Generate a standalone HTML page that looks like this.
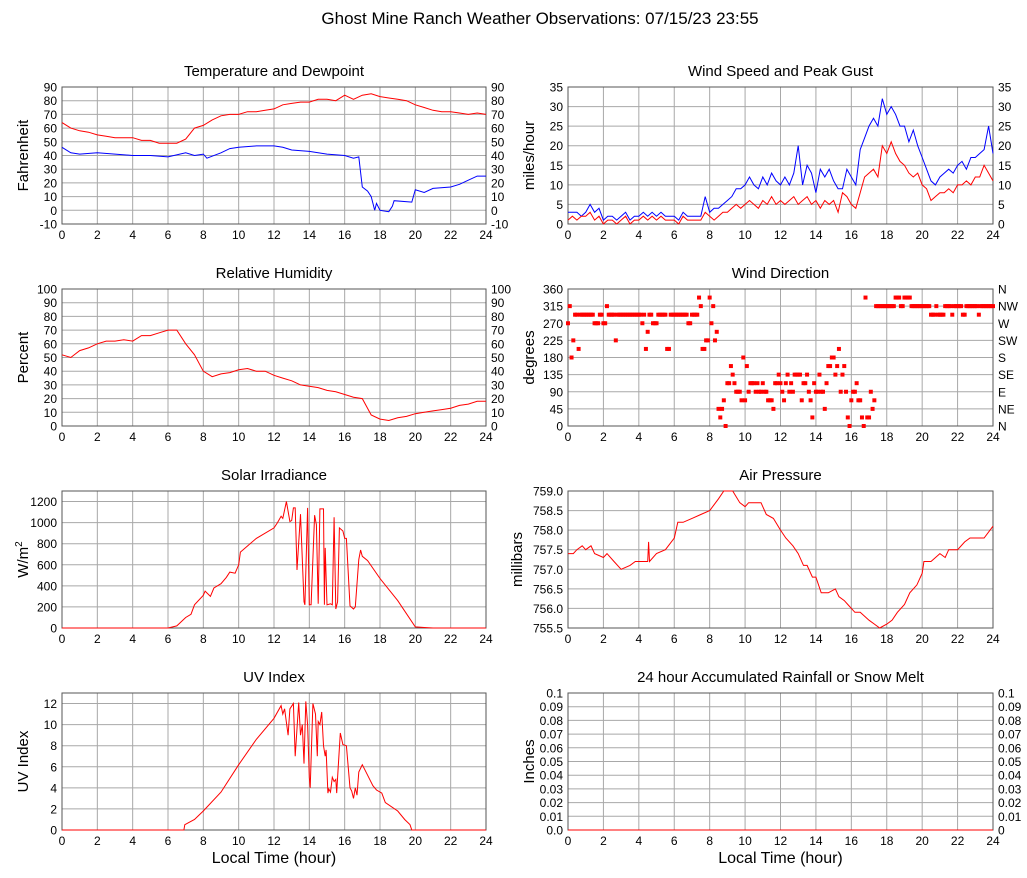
<!DOCTYPE html>
<html><head><meta charset="utf-8"><style>
html,body{margin:0;padding:0;background:#fff;}
svg{display:block;font-family:"Liberation Sans",Arial,sans-serif;}
</style></head><body>
<svg id="chart" width="1027" height="878" viewBox="0 0 1027 878" xmlns="http://www.w3.org/2000/svg">
<rect width="1027" height="878" fill="#fff"/>
<text x="540" y="24" text-anchor="middle" font-size="17" fill="#000">Ghost Mine Ranch Weather Observations: 07/15/23 23:55</text>
</svg>
<script>
// ---- data ----
const hourTicks=[0,2,4,6,8,10,12,14,16,18,20,22,24];
const tempVals=[64,60,58,57,55,54,53,53,53,51,51,49,49,49,52,60,62,66,69,70,70,72,72,73,74,77,78,79,79,81,81,80,84,81,84,85,83,82,81,80,77,75,73,72,72,71,70,71,70];
const dewT=[0,0.5,1,2,3,4,5,6,7,7.5,8,8.2,9,9.5,10,11,12,12.5,13,14,15,16,16.5,16.8,17,17.3,17.5,17.7,17.8,18,18.5,18.7,18.8,19.8,20,20.5,21,22,22.5,23,23.5,24];
const dewV=[46,42,41,42,41,40,40,39,42,40,41,38,42,45,46,47,47,46,44,43,41,40,38,39,17,14,10,0,5,0,-1,3,7,6,15,13,16,17,19,22,25,25];
const gustVals=[3,3,3,2,3,5,3,4, 1,2,2,1,2,3,1,2, 2,3,2,3,2,3,2,2, 2,1,3,2,2,2,2,7, 3,4,4,5,6,7,9,9, 10,12,10,9,12,10,13,11, 10,12,10,13,20,10,15,13, 8,14,12,14,11,9,9,14, 12,10,19,22,25,27,25,32, 28,30,28,25,25,21,24,20, 17,14,11,10,12,13,14,13, 15,16,14,17,17,18,19,25, 18];
const speedVals=[1,2,1,2,2,3,1,2, 0,1,1,0,1,2,0,1, 1,2,1,2,1,2,1,1, 1,0,2,1,1,1,1,3, 2,1,2,3,3,4,5,4, 5,6,5,4,6,5,7,5, 6,5,6,7,5,6,7,5, 6,4,6,5,6,3,8,7, 5,4,8,12,13,14,12,20, 18,21,18,16,15,13,12,13, 10,9,6,7,8,8,9,8, 10,10,11,10,12,12,15,13, 11];
const rhVals=[52,50,55,57,60,62,62,63,62,66,66,68,70,70,60,52,40,36,38,39,41,42,40,40,37,35,33,30,29,28,26,25,23,21,20,8,5,4,6,7,9,10,11,12,13,15,16,18,18];
const dirVals=[270,315,180,225,292.5,292.5,202.5,292.5,292.5,292.5,
292.5,292.5,292.5,292.5,292.5,270,270,270,292.5,292.5,
270,270,315,292.5,292.5,292.5,292.5,225,292.5,292.5,
292.5,292.5,292.5,292.5,292.5,292.5,292.5,292.5,292.5,292.5,
292.5,292.5,270,292.5,202.5,247.5,292.5,292.5,270,270,
270,292.5,292.5,292.5,292.5,292.5,202.5,202.5,292.5,292.5,
292.5,292.5,292.5,292.5,292.5,292.5,292.5,292.5,270,270,
292.5,292.5,292.5,292.5,337.5,315,202.5,202.5,225,225,
337.5,270,315,225,247.5,45,22.5,45,67.5,0,
112.5,112.5,157.5,135,112.5,90,90,90,67.5,180,
67.5,157.5,90,112.5,112.5,112.5,90,112.5,90,90,
112.5,90,90,67.5,67.5,67.5,45,112.5,112.5,135,
112.5,90,67.5,112.5,135,90,112.5,90,135,135,
135,135,67.5,112.5,112.5,135,90,67.5,22.5,112.5,
90,90,135,90,90,45,112.5,157.5,157.5,180,
180,135,157.5,202.5,90,135,157.5,90,22.5,0,
67.5,90,90,112.5,67.5,67.5,22.5,0,337.5,22.5,
22.5,90,45,67.5,315,315,315,315,315,315,
315,315,315,315,315,337.5,337.5,337.5,315,315,
337.5,337.5,337.5,337.5,315,315,315,315,315,315,
315,315,315,315,315,292.5,292.5,292.5,315,292.5,
292.5,292.5,292.5,315,315,315,315,292.5,315,315,
315,315,315,292.5,292.5,315,315,315,315,315,
315,315,292.5,315,315,315,315,315,315,315,
315];
const solarT=[0,6,6.5,7,7.3,7.5,8,8.1,8.4,8.6,9,9.3,9.5,9.8,10,10.1,11,12,12.2,12.4,12.5,12.7,12.9,13,13.1,13.2,13.3,13.5,13.7,13.75,13.9,14.0,14.1,14.3,14.4,14.5,14.6,14.8,14.85,14.9,15,15.2,15.3,15.4,15.5,15.6,15.7,15.9,16,16.1,16.3,16.5,16.6,16.8,16.9,17,17.3,18,19,20,20.5,21,24];
const solarV=[0,0,20,100,130,220,310,350,300,380,420,480,530,520,600,720,850,950,1000,1060,1040,1200,1010,1020,1140,1140,550,1080,250,220,1140,220,220,1070,980,230,1130,1130,220,760,220,230,220,1050,180,250,950,920,850,850,210,180,200,650,740,680,640,470,260,10,5,0,0];
const presT=[0,0.3,0.5,0.8,1,1.3,1.5,2,2.2,2.6,3,3.5,3.8,4,4.5,4.55,4.6,5,5.5,6,6.2,6.5,7,7.5,8,8.5,8.8,9.3,9.7,10,10.2,10.9,11.2,11.6,12,12.3,12.7,13,13.3,13.5,13.8,14,14.3,14.7,15.1,15.3,15.6,15.8,16.2,16.5,17,17.3,17.6,18,18.3,18.6,19,19.3,19.7,20,20.1,20.5,21,21.3,21.5,22,22.4,22.7,23,23.5,24];
const presV=[757.4,757.4,757.5,757.6,757.5,757.6,757.4,757.3,757.4,757.2,757.0,757.1,757.2,757.2,757.2,757.7,757.2,757.4,757.5,757.8,758.2,758.2,758.3,758.4,758.5,758.8,759.0,759.0,758.7,758.6,758.7,758.7,758.4,758.3,758.0,757.8,757.6,757.4,757.1,757.1,756.8,756.8,756.4,756.4,756.5,756.3,756.2,756.1,755.9,755.9,755.7,755.6,755.5,755.6,755.7,755.9,756.1,756.4,756.6,756.9,757.2,757.2,757.4,757.3,757.5,757.5,757.7,757.8,757.8,757.8,758.1];
const uvT=[0,6.9,6.95,7.5,8,9,10,11,12,12.4,12.5,12.6,12.8,12.9,13.1,13.2,13.4,13.5,13.6,13.7,13.8,13.9,14,14.05,14.2,14.35,14.45,14.5,14.6,14.7,14.8,14.9,14.95,15.05,15.1,15.2,15.3,15.4,15.5,15.55,15.6,15.75,15.9,16.1,16.3,16.4,16.5,16.6,16.7,16.8,17,17.3,17.6,17.8,18.1,18.3,19,19.4,19.7,19.8,24];
const uvV=[0,0,0.5,1,1.8,3.6,6.2,8.6,10.6,11.8,11,11.5,9,11.5,12,7,12.1,9,10,6.3,12.2,10,5,4,12,11,7,10.3,10,11.2,8,7,7.6,3.5,3.9,3.6,5,4.6,4.8,3.5,5,9.2,8.1,8,4,3.7,3,4,3.3,5.5,6.2,5.2,4.2,3.8,3.5,2.6,1.8,1.0,0.5,0,0];
const rainVals=[0,0];

// ---- helpers ----
const NS="http://www.w3.org/2000/svg";
const svg=document.getElementById('chart');
function mk(tag,attrs,parent){const e=document.createElementNS(NS,tag);for(const k in attrs)e.setAttribute(k,attrs[k]);(parent||svg).appendChild(e);return e;}
const LX=[62,486], RX=[568,993];
const ROWS=[[87,224],[289,426],[491,628],[693,830]];

function panel(o){
  const [x0,x1]=o.xr,[y0,y1]=o.yr;
  const g=mk('g',{});
  
  
  const sx=h=>x0+(h/24)*(x1-x0);
  const sy=v=>y1-(v-o.ymin)/(o.ymax-o.ymin)*(y1-y0);
  hourTicks.forEach(h=>{const l=mk('line',{x1:sx(h),x2:sx(h),y1:y0,y2:y1,stroke:'#a8a8a8','stroke-width':1},g);
    
    const t=mk('text',{x:sx(h),y:y1+15,'text-anchor':'middle','font-size':12,fill:'#000'},g);t.textContent=h;
    });
  o.yticks.forEach((v,i)=>{const y=sy(v);
    const l=mk('line',{x1:x0,x2:x1,y1:y,y2:y,stroke:'#a8a8a8','stroke-width':1},g);
    
    const t=mk('text',{x:x0-5,y:y+4.5,'text-anchor':'end','font-size':12,fill:'#000'},g);t.textContent=o.ylabels?o.ylabels[i]:v;
    
    if(o.rlabels){const r=mk('text',{x:x1+5,y:y+4.5,'text-anchor':'start','font-size':12,fill:'#000'},g);r.textContent=o.rlabels[i];
      }
  });
  const fr=mk('rect',{x:x0,y:y0,width:x1-x0,height:y1-y0,fill:'none',stroke:'#555','stroke-width':1},g);
  
  const tt=mk('text',{x:(x0+x1)/2,y:y0-11,'text-anchor':'middle','font-size':15,fill:'#000'},g);tt.textContent=o.title;
  
  const yc=(y0+y1)/2, ax=x0-(o.yoff||34);
  const yt=mk('text',{x:ax,y:yc,'text-anchor':'middle','font-size':15,fill:'#000',transform:`rotate(-90 ${ax} ${yc})`},g);
  if(o.sup){yt.textContent=o.ylab;const s=mk('tspan',{dy:-6,'font-size':10},yt);s.textContent=o.sup;}
  else yt.textContent=o.ylab;
  
  if(o.xlab){const xt=mk('text',{x:(x0+x1)/2,y:y1+33,'text-anchor':'middle','font-size':16,fill:'#000'},g);xt.textContent='Local Time (hour)';
    }
  return {g,sx,sy};
}
function lineEven(p,vals,color,name){
  const n=vals.length;const d=vals.map((v,i)=>(i?'L':'M')+p.sx(i*24/(n-1)).toFixed(1)+' '+p.sy(v).toFixed(1)).join(' ');
  const e=mk('path',{d,fill:'none',stroke:color,'stroke-width':1},p.g);
  
}
function lineXY(p,ts,vs,color,name){
  const d=ts.map((t,i)=>(i?'L':'M')+p.sx(t).toFixed(1)+' '+p.sy(vs[i]).toFixed(1)).join(' ');
  const e=mk('path',{d,fill:'none',stroke:color,'stroke-width':1},p.g);
  
}
const r10=[-10,0,10,20,30,40,50,60,70,80,90];
const p1=panel({name:'temperature-panel',xr:LX,yr:ROWS[0],ymin:-10,ymax:90,yticks:r10,rlabels:r10,title:'Temperature and Dewpoint',ylab:'Fahrenheit'});
lineEven(p1,tempVals,'#f00','temperature-line');
lineXY(p1,dewT,dewV,'#00f','dewpoint-line');
const w=[0,5,10,15,20,25,30,35];
const p2=panel({name:'wind-speed-panel',xr:RX,yr:ROWS[0],ymin:0,ymax:35,yticks:w,rlabels:w,title:'Wind Speed and Peak Gust',ylab:'miles/hour'});
lineEven(p2,gustVals,'#00f','peak-gust-line');
lineEven(p2,speedVals,'#f00','wind-speed-line');
const h=[0,10,20,30,40,50,60,70,80,90,100];
const p3=panel({name:'humidity-panel',xr:LX,yr:ROWS[1],ymin:0,ymax:100,yticks:h,rlabels:h,title:'Relative Humidity',ylab:'Percent'});
lineEven(p3,rhVals,'#f00','humidity-line');
const dt=[0,45,90,135,180,225,270,315,360];
const p4=panel({name:'wind-direction-panel',xr:RX,yr:ROWS[1],ymin:0,ymax:360,yticks:dt,rlabels:['N','NE','E','SE','S','SW','W','NW','N'],title:'Wind Direction',ylab:'degrees'});
dirVals.forEach((v,i)=>{const x=p4.sx(i*24/(dirVals.length-1)),y=p4.sy(v);
  const r=mk('rect',{x:x-2,y:y-2,width:4,height:4,fill:'#f00'},p4.g);
  
  });
const p5=panel({name:'solar-panel',xr:LX,yr:ROWS[2],ymin:0,ymax:1300,yticks:[0,200,400,600,800,1000,1200],title:'Solar Irradiance',ylab:'W/m',sup:'2'});
lineXY(p5,solarT,solarV,'#f00','solar-line');
const pt=[755.5,756,756.5,757,757.5,758,758.5,759];
const p6=panel({name:'pressure-panel',xr:RX,yr:ROWS[2],ymin:755.5,ymax:759,yticks:pt,ylabels:pt.map(v=>v.toFixed(1)),title:'Air Pressure',ylab:'millibars',yoff:46});
lineXY(p6,presT,presV,'#f00','pressure-line');
const p7=panel({name:'uv-panel',xr:LX,yr:ROWS[3],ymin:0,ymax:13,yticks:[0,2,4,6,8,10,12],title:'UV Index',ylab:'UV Index',xlab:true});
lineXY(p7,uvT,uvV,'#f00','uv-line');
const rt=[0,0.01,0.02,0.03,0.04,0.05,0.06,0.07,0.08,0.09,0.1];
const p8=panel({name:'rainfall-panel',xr:RX,yr:ROWS[3],ymin:0,ymax:0.1,yticks:rt,ylabels:rt.map((v,i)=>i==0?'0.0':String(v)),rlabels:rt.map(v=>String(v)),title:'24 hour Accumulated Rainfall or Snow Melt',ylab:'Inches',xlab:true});
lineEven(p8,rainVals,'#f00','rainfall-line');
</script>
</body></html>
